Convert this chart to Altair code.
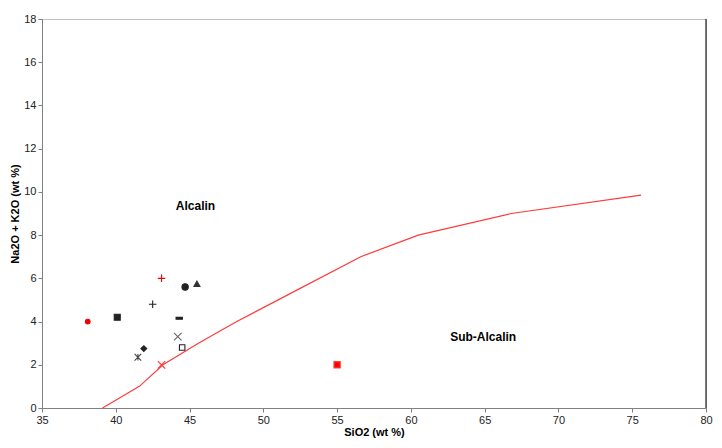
import altair as alt
import pandas as pd

# Boundary curve (alkaline / sub-alkaline)
curve_sio2 = [39.1, 41.6, 43.2, 45.6, 48.2, 52.4, 56.6, 60.5, 66.8, 75.6]
curve_alk = [0.0, 1.0, 2.0, 3.0, 4.0, 5.5, 7.0, 8.0, 9.0, 9.85]

# Samples
sio2 = [38.1, 40.1, 43.1, 42.5, 44.7, 45.5, 44.3, 44.2, 44.5, 41.9, 41.5, 43.1, 55.0]
alk = [4.0, 4.2, 6.0, 4.8, 5.6, 5.75, 4.15, 3.3, 2.8, 2.75, 2.35, 2.0, 2.0]
shapes = [
    "circle", "square", "M-1,0L1,0M0,-1L0,1", "M-1,0L1,0M0,-1L0,1", "circle",
    "triangle-up", "M-1,-0.3L1,-0.3L1,0.3L-1,0.3Z", "M-1,-1L1,1M-1,1L1,-1",
    "square", "diamond", "M-1,-1L1,1M-1,1L1,-1M0,-1L0,1", "M-1,-1L1,1M-1,1L1,-1", "square",
]
strokes = ["#ee0000", "#222222", "#ff0000", "#222222", "#222222", "#333333", "#222222",
           "#666666", "#222222", "#222222", "#444444", "#ff3333", "#ff4444"]
fills = ["#ee0000", "#222222", "transparent", "transparent", "#222222", "#333333", "#222222",
         "transparent", "transparent", "#222222", "transparent", "transparent", "#ff0000"]
sizes = [22, 36, 56, 56, 40, 36, 40, 56, 30, 34, 44, 56, 40]

labels = ["Alcalin", "Sub-Alcalin"]
label_x = [45.4, 64.9]
label_y = [9.35, 3.29]

x_ticks = [35, 40, 45, 50, 55, 60, 65, 70, 75, 80]
y_ticks = [0, 2, 4, 6, 8, 10, 12, 14, 16, 18]

curve_df = pd.DataFrame({"x": curve_sio2, "y": curve_alk})
pts_df = pd.DataFrame({"x": sio2, "y": alk, "shape": shapes, "stroke": strokes,
                       "fill": fills, "size": sizes})
lab_df = pd.DataFrame({"x": label_x, "y": label_y, "t": labels})

FONT = "Liberation Sans"

xs = alt.Scale(domain=[35, 80], nice=False, zero=False)
ys = alt.Scale(domain=[0, 18], nice=False)

x_axis = alt.Axis(values=x_ticks, title="SiO2 (wt %)", grid=False, tickSize=4,
                  domainColor="#808080", tickColor="#808080", labelFont=FONT,
                  labelFontSize=11, labelColor="#222222", titleFont=FONT,
                  titleFontSize=11, titleFontWeight="bold", titleColor="#000000",
                  labelPadding=2, titlePadding=1, labelFlush=False)
y_axis = alt.Axis(values=y_ticks, title="Na2O + K2O (wt %)", grid=False, tickSize=4,
                  domainColor="#808080", tickColor="#808080", labelFont=FONT,
                  labelFontSize=11, labelColor="#222222", titleFont=FONT,
                  titleFontSize=11, titleFontWeight="bold", titleColor="#000000",
                  labelPadding=2, titlePadding=3, labelFlush=False)

curve = alt.Chart(curve_df).mark_line(color="#ff3b3b", strokeWidth=1.2).encode(
    x=alt.X("x:Q", scale=xs, axis=x_axis),
    y=alt.Y("y:Q", scale=ys, axis=y_axis),
    order=alt.Order("x:Q"),
)

right_border = alt.Chart(pd.DataFrame({"x": [80], "y": [0], "y2": [18]})).mark_rule(
    color="#222222", strokeWidth=1.2
).encode(x=alt.X("x:Q", scale=xs), y=alt.Y("y:Q", scale=ys), y2="y2:Q")

points = alt.Chart(pts_df).mark_point(strokeWidth=1.1, opacity=1).encode(
    x=alt.X("x:Q", scale=xs),
    y=alt.Y("y:Q", scale=ys),
    shape=alt.Shape("shape:N", scale=None),
    color=alt.Color("stroke:N", scale=None),
    fill=alt.Fill("fill:N", scale=None),
    size=alt.Size("size:Q", scale=None),
)

texts = alt.Chart(lab_df).mark_text(font=FONT, fontSize=12, fontWeight="bold",
                                    color="#000000").encode(
    x=alt.X("x:Q", scale=xs), y=alt.Y("y:Q", scale=ys), text="t:N"
)

chart = alt.layer(curve, right_border, points, texts).properties(
    width=664, height=389,
    autosize=alt.AutoSizeParams(type="none"),
    padding={"left": 34, "top": 11, "right": 7, "bottom": 30},
).configure_view(stroke="#c0c0c0", strokeWidth=1)

chart.save("out.html", embed_options={"renderer": "svg", "actions": False})
